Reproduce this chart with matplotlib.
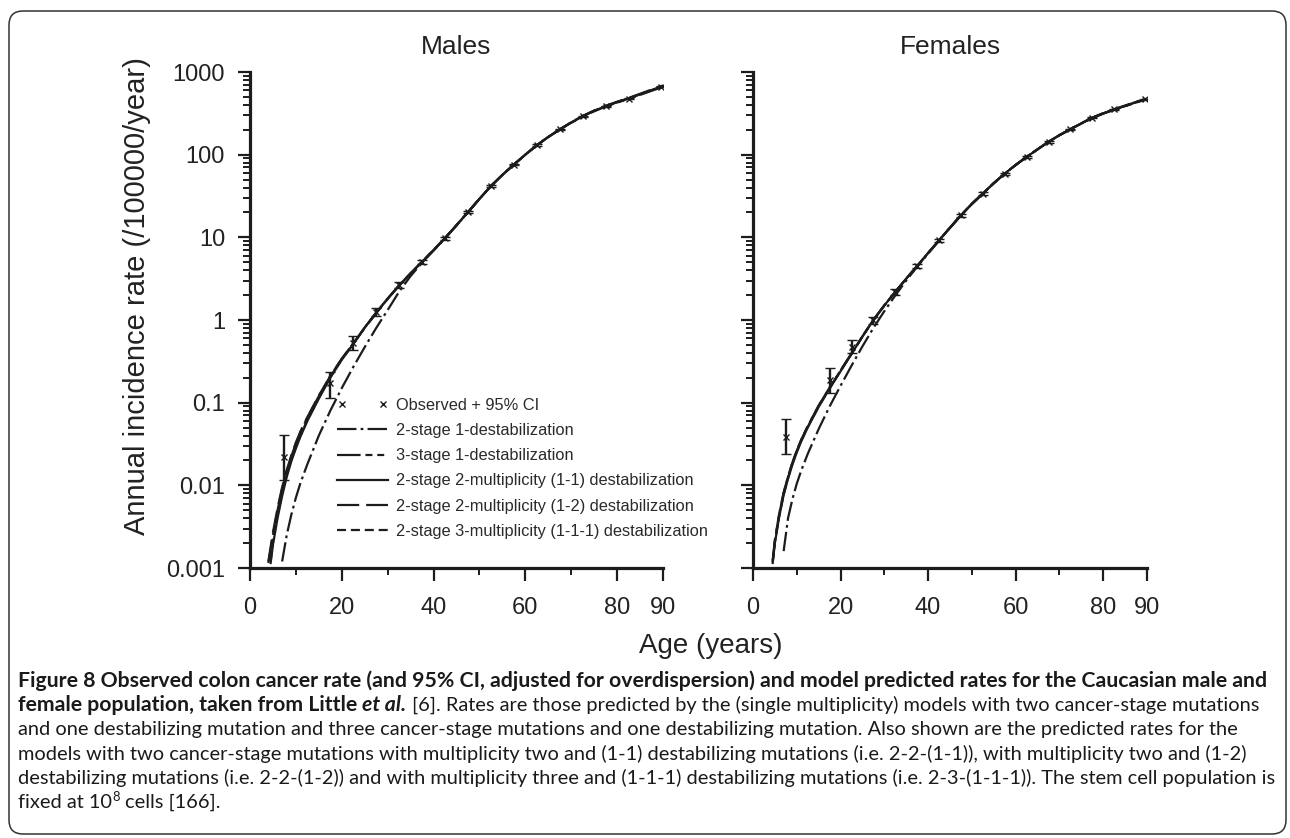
import matplotlib
matplotlib.use("Agg")
import matplotlib.pyplot as plt
import numpy as np
from matplotlib.lines import Line2D
from matplotlib.patches import FancyBboxPatch
from matplotlib.legend_handler import HandlerLine2D
from matplotlib.ticker import FixedLocator, LogLocator, NullFormatter, FuncFormatter

plt.rcParams["font.family"] = ["Liberation Sans", "DejaVu Sans"]
plt.rcParams["lines.scale_dashes"] = False

# ---------------- data ----------------
obs_age = [7.5, 17.5, 22.5, 27.5, 32.5, 37.5, 42.5, 47.5, 52.5, 57.5, 62.5, 67.5, 72.5, 77.5, 82.5, 89.5]

male_obs = [0.022, 0.171, 0.52, 1.26, 2.63, 5.06, 9.7, 20.3, 41.7, 76, 130, 202, 292, 386, 478, 661]
male_lo = [0.0116, 0.113, 0.43, 1.12, 2.45, 4.8, 9.3, 19.6, 40.5, 74, 127, 198, 287, 380, 470, 650]
male_hi = [0.0405, 0.237, 0.64, 1.40, 2.85, 5.35, 10.1, 21.0, 43.0, 78, 133, 206, 297, 392, 486, 672]

female_obs = [0.0387, 0.187, 0.475, 1.0, 2.19, 4.5, 9.2, 18.5, 33.9, 59, 94, 143, 203, 279, 352, 465]
female_lo = [0.0239, 0.13, 0.40, 0.90, 2.02, 4.25, 8.8, 17.8, 32.8, 57.5, 92, 140, 199, 274, 346, 457]
female_hi = [0.063, 0.26, 0.58, 1.10, 2.37, 4.75, 9.6, 19.2, 35.0, 60.5, 96, 146, 207, 284, 358, 473]

model_age = [4, 4.5, 5, 6, 7, 8, 9, 10, 11, 12.5, 15, 17.5, 20, 22.5, 25, 27.5, 30, 32.5, 35, 37.5,
             40, 42.5, 45, 47.5, 50, 52.5, 55, 57.5, 60, 62.5, 65, 67.5, 70, 72.5, 75, 77.5, 80, 82.5,
             85, 87.5, 90]
nan = float("nan")

male_2s1d = [nan, nan, nan, nan, 0.0012, 0.0025, 0.0044, 0.0071, 0.0107, 0.018, 0.040, 0.080, 0.15, 0.27,
             0.47, 0.80, 1.32, 2.2, 3.4, 4.95, 6.9, 9.7, 13.9, 20.1, 29.1, 41.6, 56.8, 75.8, 100, 130,
             164, 202, 245, 292, 339, 386, 432, 479, 537, 603, 676]
male_3s1d = [0.00115, 0.0017, 0.0025, 0.0050, 0.0090, 0.0148, 0.0225, 0.032, 0.044, 0.066, 0.12, 0.21,
             0.34, 0.52, 0.81, 1.22, 1.80, 2.60, 3.65, 5.05, 7.0, 9.8, 14.0, 20.2, 29.2, 41.7, 56.9, 75.9,
             100, 130, 163, 201, 243, 289, 335, 381, 426, 472, 528, 592, 660]
male_2m11 = [nan, 0.00115, 0.0019, 0.0040, 0.0074, 0.0126, 0.0195, 0.028, 0.039, 0.060, 0.112, 0.20,
             0.33, 0.51, 0.81, 1.23, 1.82, 2.63, 3.67, 5.07, 7.0, 9.8, 14.0, 20.2, 29.2, 41.7, 56.9, 75.9,
             100, 130, 164, 202, 245, 292, 339, 386, 432, 479, 537, 603, 676]
male_2m12 = [0.0012, 0.0018, 0.0027, 0.0053, 0.0095, 0.0153, 0.023, 0.033, 0.045, 0.067, 0.122, 0.21,
             0.34, 0.52, 0.80, 1.21, 1.80, 2.62, 3.66, 5.07, 7.0, 9.8, 14.0, 20.2, 29.2, 41.7, 56.9, 75.9,
             100, 130, 164, 202, 246, 294, 342, 390, 437, 485, 545, 612, 688]
male_3m111 = [nan, 0.0012, 0.0021, 0.0044, 0.0080, 0.0134, 0.0205, 0.029, 0.040, 0.062, 0.115, 0.205,
              0.335, 0.515, 0.81, 1.22, 1.81, 2.62, 3.67, 5.07, 7.0, 9.8, 14.0, 20.2, 29.2, 41.7, 56.9,
              75.9, 100, 130, 164, 202, 245, 292, 339, 386, 432, 479, 537, 603, 672]

female_2s1d = [nan, nan, nan, nan, 0.0016, 0.0040, 0.0068, 0.0105, 0.0150, 0.024, 0.048, 0.090, 0.16,
               0.28, 0.48, 0.80, 1.28, 1.98, 3.0, 4.4, 6.35, 9.1, 13.0, 18.4, 25.3, 33.8, 45.1, 59.0,
               75.0, 94.0, 116, 143, 172, 203, 239, 279, 316, 352, 389, 432, 473]
female_3s1d = [nan, 0.0012, 0.0021, 0.0045, 0.0081, 0.0127, 0.0187, 0.0262, 0.0352, 0.052, 0.092, 0.152,
               0.245, 0.393, 0.633, 1.0, 1.50, 2.19, 3.16, 4.50, 6.46, 9.20, 13.1, 18.5, 25.4, 33.9, 45.2,
               59.0, 75.0, 94.0, 116, 143, 172, 203, 238, 277, 313, 349, 385, 427, 467]
female_2m11 = [nan, 0.00115, 0.0020, 0.0042, 0.0076, 0.0120, 0.0178, 0.0251, 0.0339, 0.050, 0.089, 0.148,
               0.240, 0.389, 0.631, 1.0, 1.50, 2.19, 3.16, 4.50, 6.46, 9.20, 13.1, 18.5, 25.4, 33.9, 45.2,
               59.0, 75.0, 94.0, 116, 143, 172, 203, 239, 279, 316, 352, 389, 432, 473]
female_2m12 = [nan, 0.00125, 0.0022, 0.0046, 0.0082, 0.0128, 0.0189, 0.0264, 0.0355, 0.052, 0.092, 0.152,
               0.245, 0.392, 0.632, 1.0, 1.50, 2.19, 3.16, 4.50, 6.46, 9.20, 13.1, 18.5, 25.4, 33.9, 45.2,
               59.0, 75.0, 94.0, 116, 143, 172, 204, 240, 280, 318, 355, 393, 436, 478]
female_3m111 = [nan, 0.00118, 0.0021, 0.0043, 0.0078, 0.0123, 0.0182, 0.0256, 0.0345, 0.051, 0.090, 0.150,
                0.242, 0.390, 0.631, 1.0, 1.50, 2.19, 3.16, 4.50, 6.46, 9.20, 13.1, 18.5, 25.4, 33.9, 45.2,
                59.0, 75.0, 94.0, 116, 143, 172, 203, 239, 279, 316, 352, 389, 432, 473]

series_labels = ["2-stage 1-destabilization", "3-stage 1-destabilization",
                 "2-stage 2-multiplicity (1-1) destabilization",
                 "2-stage 2-multiplicity (1-2) destabilization",
                 "2-stage 3-multiplicity (1-1-1) destabilization"]
obs_label = "Observed + 95% CI"
y_ticks = [0.001, 0.01, 0.1, 1, 10, 100, 1000]
x_major = [0, 20, 40, 60, 80, 90]
x_minor = [10, 30, 50, 70]

# ---------------- styles ----------------
INK = "#1c1c1c"
line_styles = [(0, (14, 3, 2, 3)), (0, (17, 3.5, 5, 3.5, 5, 3.5)), "-", (0, (16, 5)), (0, (6.5, 3.5))]

W, H = 1290, 838
fig = plt.figure(figsize=(W / 100, H / 100), dpi=100)
fig.patch.set_facecolor("white")

# frame
bg = fig.add_axes([0, 0, 1, 1], zorder=-5)
bg.set_xlim(0, W)
bg.set_ylim(H, 0)
bg.axis("off")
bg.add_patch(FancyBboxPatch((9, 11), 1277, 823, boxstyle="round,pad=0,rounding_size=14",
                            fc="none", ec="#333333", lw=1.1))


def px_axes(x0, x1, y_top, y_bot):
    return [x0 / W, (H - y_bot) / H, (x1 - x0) / W, (y_bot - y_top) / H]


axM = fig.add_axes(px_axes(250, 663, 72, 568))
axF = fig.add_axes(px_axes(753, 1147, 72, 568))

panels = [
    (axM, "Males", male_obs, male_lo, male_hi,
     [male_2s1d, male_3s1d, male_2m11, male_2m12, male_3m111], True),
    (axF, "Females", female_obs, female_lo, female_hi,
     [female_2s1d, female_3s1d, female_2m11, female_2m12, female_3m111], False),
]

for ax, title, obs, lo, hi, models, show_ylab in panels:
    ax.set_facecolor("none")
    for vals, ls in zip(models, line_styles):
        ax.plot(model_age, vals, ls=ls, color=INK, lw=1.6, zorder=3)
    o = np.array(obs)
    yerr = [o - np.array(lo), np.array(hi) - o]
    ax.errorbar(obs_age, obs, yerr=yerr, fmt="x", ms=5, mew=1.0, color=INK, ecolor=INK,
                elinewidth=1.7, capsize=3.5, capthick=1.7, zorder=5)
    ax.set_yscale("log")
    ax.set_ylim(0.001, 1000)
    ax.set_xlim(0, 90)
    for s in ["top", "right"]:
        ax.spines[s].set_visible(False)
    for s in ["left", "bottom"]:
        ax.spines[s].set_linewidth(2.3)
        ax.spines[s].set_color(INK)
    ax.yaxis.set_major_locator(FixedLocator(y_ticks))
    ax.yaxis.set_minor_locator(LogLocator(base=10, subs=np.arange(2, 10), numticks=20))
    ax.yaxis.set_minor_formatter(NullFormatter())
    ax.yaxis.set_major_formatter(FuncFormatter(lambda v, p: "%g" % v))
    ax.xaxis.set_major_locator(FixedLocator(x_major))
    ax.xaxis.set_minor_locator(FixedLocator(x_minor))
    ax.tick_params(axis="both", which="major", direction="out", length=9, width=1.6,
                   color=INK, labelsize=17, labelcolor="#222222")
    ax.tick_params(axis="both", which="minor", direction="out", length=5, width=1.4, color=INK)
    ax.tick_params(axis="x", which="major", pad=12)
    ax.tick_params(axis="y", which="major", pad=9, labelleft=show_ylab)
    ax.set_title(title, fontsize=19, pad=13, color="#222222")

# legend in the male panel
h_obs = Line2D([], [], ls="none", marker="x", ms=5, mew=1.0, color=INK)
handles = [h_obs] + [Line2D([], [], ls=ls, lw=1.6, color=INK) for ls in line_styles]
leg = axM.legend(handles, [obs_label] + series_labels, loc="upper left",
                 bbox_to_anchor=(337 / W, (H - 398) / H), bbox_transform=fig.transFigure,
                 frameon=False, borderpad=0, borderaxespad=0, handlelength=3.1, handletextpad=0.5,
                 labelspacing=0.62,
                 prop={"family": ["Liberation Sans"], "size": 11.8},
                 labelcolor="#2a2a2a", handler_map={h_obs: HandlerLine2D(numpoints=2)})

fig.text(137 / W, 1 - 296 / H, "Annual incidence rate (/100000/year)", rotation=90,
         ha="center", va="center", fontsize=21, color="#222222")
fig.text(711 / W, 1 - 646 / H, "Age (years)", ha="center", va="center", fontsize=20,
         color="#222222")

# ---------------- caption ----------------
renderer = fig.canvas.get_renderer()
cap_family = ["Lato", "DejaVu Sans"]
line1 = ("Figure 8 Observed colon cancer rate (and 95% CI, adjusted for overdispersion) "
         "and model predicted rates for the Caucasian male and")
line3 = ("and one destabilizing mutation and three cancer-stage mutations and one "
         "destabilizing mutation. Also shown are the predicted rates for the")


def raw_width(s, fs, **kw):
    t = fig.text(0, 0, s, fontsize=fs, family=cap_family, **kw)
    w = t.get_window_extent(renderer).width
    t.remove()
    return w


fs_bold = 10 * 1257 / raw_width(line1, 10, fontweight="bold")
fs_reg = 10 * 1222 / raw_width(line3, 10)
space_w = raw_width("a a", fs_reg) - raw_width("aa", fs_reg)


def draw_segments(y_px, segs, x_px=18):
    x = x_px
    for text, kw, gap in segs:
        kw = dict(kw)
        size = kw.pop("size_scale", 1.0)
        dy = kw.pop("dy", 0)
        fs = fs_bold if kw.get("fontweight") == "bold" else fs_reg
        t = fig.text(x / W, 1 - (y_px - dy) / H, text, fontsize=fs * size, family=cap_family,
                     va="baseline", ha="left", color="#1a1a1a", **kw)
        x = t.get_window_extent(renderer).x1 + (space_w if gap else 0)


B = {"fontweight": "bold"}
BI = {"fontweight": "bold", "fontstyle": "italic"}
R = {}
base = 687
step = 24.2
draw_segments(base, [(line1, B, False)])
draw_segments(base + step, [("female population, taken from Little", B, True),
                            ("et al.", BI, True),
                            ("[6]. Rates are those predicted by the (single multiplicity) models with two "
                             "cancer-stage mutations", R, False)])
draw_segments(base + 2 * step, [(line3, R, False)])
draw_segments(base + 3 * step, [("models with two cancer-stage mutations with multiplicity two and (1-1) "
                                 "destabilizing mutations (i.e. 2-2-(1-1)), with multiplicity two and (1-2)",
                                 R, False)])
draw_segments(base + 4 * step, [("destabilizing mutations (i.e. 2-2-(1-2)) and with multiplicity three and "
                                 "(1-1-1) destabilizing mutations (i.e. 2-3-(1-1-1)). The stem cell population is",
                                 R, False)])
draw_segments(base + 5 * step, [("fixed at 10", R, False),
                                ("8", {"size_scale": 0.65, "dy": 7}, True),
                                ("cells [166].", R, False)])

fig.savefig("out.png", dpi=100, facecolor="white")
